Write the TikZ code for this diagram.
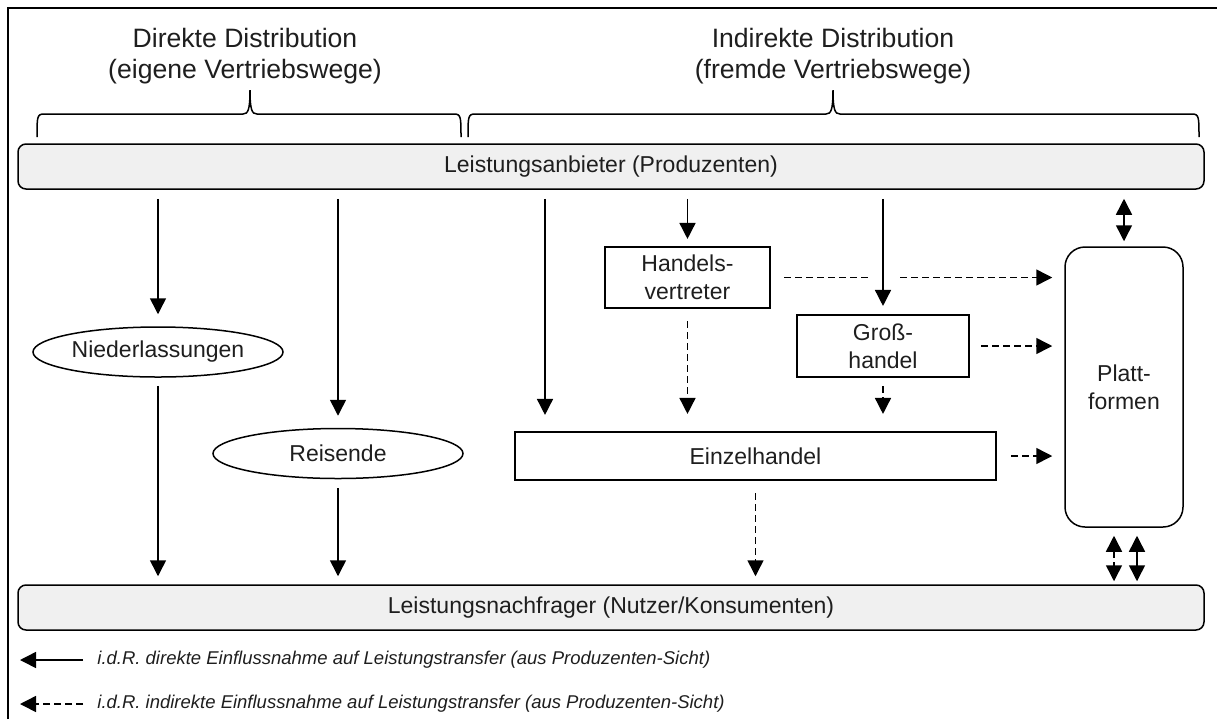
\documentclass[tikz,border=0pt]{standalone}
\usepackage{fontspec}
\setmainfont{Liberation Sans}
\usetikzlibrary{arrows.meta,shapes.geometric}
\definecolor{txt}{HTML}{1E1E1E}
\definecolor{barfill}{HTML}{F0F0F0}
\begin{document}
\begin{tikzpicture}[x=0.5pt,y=-0.5pt,
  every node/.style={text=txt},
  lw/.style={line width=0.75pt},
  mainfont/.style={font=\fontsize{11.5}{14}\selectfont},
  bar/.style={draw, lw, fill=barfill, rounded corners=4pt, minimum width=593pt, minimum height=22.5pt, inner sep=0pt, mainfont},
  boxnode/.style={draw, line width=1.05pt, inner sep=0pt, align=center, mainfont},
  ovalnode/.style={draw, ellipse, lw, inner sep=0pt, minimum width=125pt, minimum height=25pt, mainfont},
  head/.style={align=center, font=\fontsize{13.3}{15.5}\selectfont},
  tipA/.tip={Triangle[length=8pt,width=8pt]},
  arr/.style={lw, -tipA},
  darr/.style={arr, dash pattern=on 3.5pt off 2pt},
  dline/.style={lw, dash pattern=on 3.5pt off 2pt},
  dbl/.style={lw, tipA-tipA},
  legtext/.style={anchor=west, inner sep=0pt, font=\fontsize{9.25}{11}\selectfont\itshape},
]
\useasboundingbox (0,0) rectangle (1217,719);

% frame
\draw[line width=0.8pt] (8,719) -- (8,8) -- (1217,8);

% headings
\node[head] (h1) at (245,56) {Direkte Distribution\\(eigene Vertriebswege)};
\node[head] (h2) at (833,56) {Indirekte Distribution\\(fremde Vertriebswege)};

% braces
\draw[lw] (37,137) .. controls (37,117) and (37,114) .. (44,114) -- (243,114)
  .. controls (248,114) and (250,110) .. (250,90)
  .. controls (250,110) and (252,114) .. (257,114) -- (454,114)
  .. controls (461,114) and (461,117) .. (461,137);
\draw[lw] (468,137) .. controls (468,117) and (468,114) .. (475,114) -- (826,114)
  .. controls (831,114) and (833,110) .. (833,90)
  .. controls (833,110) and (835,114) .. (840,114) -- (1192,114)
  .. controls (1199,114) and (1199,117) .. (1199,137);

% bars
\node[bar] (prod) at (611,166.5) {Leistungsanbieter (Produzenten)};
\node[bar] (cons) at (611,607.5) {Leistungsnachfrager (Nutzer/Konsumenten)};

% nodes
\node[ovalnode] (nied) at (158,352) {Niederlassungen};
\node[ovalnode] (reis) at (338,453.5) {Reisende};
\node[boxnode, minimum width=82.5pt, minimum height=30.5pt] (hv) at (687.5,277.5) {Handels-\\vertreter};
\node[boxnode, minimum width=86pt, minimum height=31pt] (gh) at (883,346) {Groß-\\handel};
\node[boxnode, minimum width=240.5pt, minimum height=24pt] (eh) at (755.5,456) {Einzelhandel};
\node[boxnode, lw, rounded corners=10pt, minimum width=59pt, minimum height=140pt] (pf) at (1124,387) {Platt-\\formen};

\coordinate (c1) at (545,0);
\coordinate (b1) at (1114,0);
\coordinate (b2) at (1137,0);

% direct arrows
\draw[arr, shorten <=4.5pt, shorten >=6pt] (prod.south -| nied) -- (nied.north);
\draw[arr, shorten <=4pt, shorten >=4pt] (nied.south) -- (cons.north -| nied);
\draw[arr, shorten <=4.5pt, shorten >=6pt] (prod.south -| reis) -- (reis.north);
\draw[arr, shorten <=4.5pt, shorten >=4pt] (reis.south) -- (cons.north -| reis);
\draw[arr, shorten <=4.5pt, shorten >=8pt] (prod.south -| c1) -- (eh.north -| c1);
\draw[arr, shorten <=4.5pt, shorten >=3.5pt] (prod.south -| hv) -- (hv.north);
\draw[arr, shorten <=4.5pt, shorten >=4pt] (prod.south -| gh) -- (gh.north);
\draw[dbl, shorten <=4.5pt, shorten >=2.5pt] (prod.south -| pf) -- (pf.north);

% indirect arrows
\draw[darr, shorten <=6pt, shorten >=8.5pt] (hv.south) -- (eh.north -| hv);
\draw[darr, shorten <=4pt, shorten >=8.5pt] (gh.south) -- (eh.north -| gh);
\draw[darr, shorten <=6pt, shorten >=4pt] (eh.south) -- (cons.north -| eh);
\draw[dline, shorten <=6.5pt, shorten >=7.5pt] (hv.east) -- (hv.east -| gh);
\draw[darr, shorten <=8.5pt, shorten >=6pt] (hv.east -| gh) -- (hv.east -| pf.west);
\draw[darr, shorten <=5.5pt, shorten >=6pt] (gh.east) -- (gh.east -| pf.west);
\draw[darr, shorten <=7pt, shorten >=6pt] (eh.east) -- (eh.east -| pf.west);
\draw[dbl, dash pattern=on 3.5pt off 2pt, shorten <=4pt, shorten >=1.5pt] (pf.south -| b1) -- (cons.north -| b1);
\draw[dbl, shorten <=4pt, shorten >=1.5pt] (pf.south -| b2) -- (cons.north -| b2);

% legend
\node[legtext] (lt1) at (97,660) {i.d.R. direkte Einflussnahme auf Leistungstransfer (aus Produzenten-Sicht)};
\node[legtext] (lt2) at (97,704) {i.d.R. indirekte Einflussnahme auf Leistungstransfer (aus Produzenten-Sicht)};
\coordinate (le1) at (20,660);
\coordinate (le2) at (20,704);
\draw[arr] ([xshift=-7pt]lt1.west) -- (le1);
\draw[darr] ([xshift=-7pt]lt2.west) -- (le2);
\end{tikzpicture}
\end{document}
